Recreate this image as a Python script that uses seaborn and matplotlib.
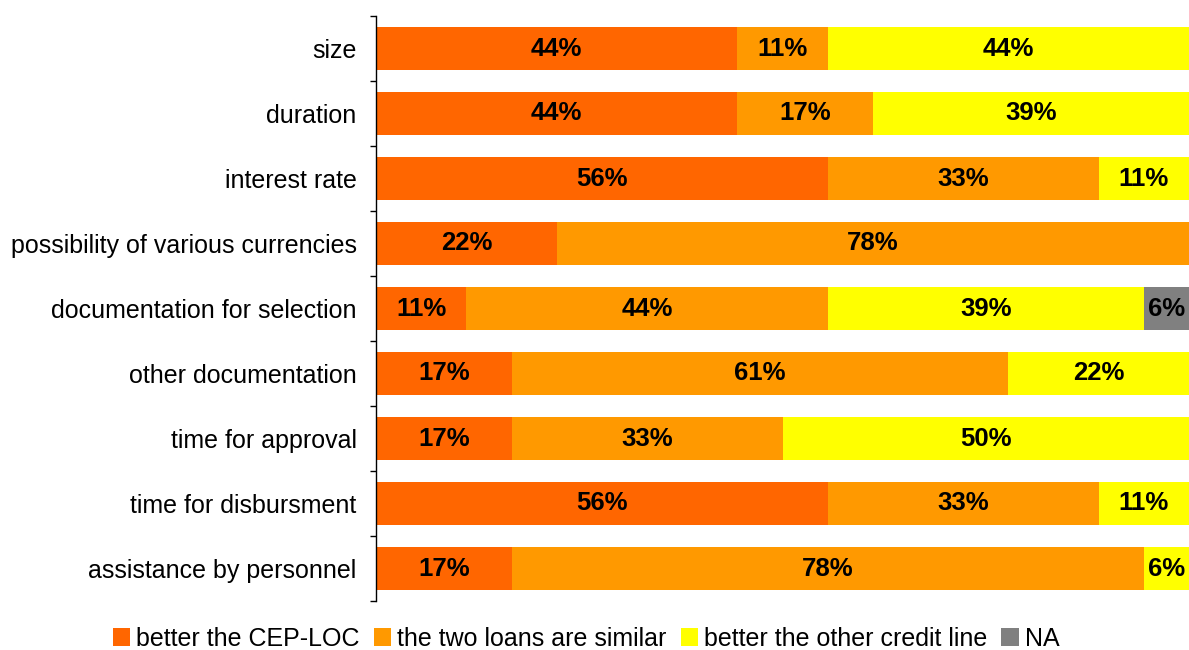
import matplotlib
matplotlib.use("Agg")
import matplotlib.pyplot as plt
from matplotlib.patches import Patch
from matplotlib.ticker import FixedLocator
import numpy as np
import pandas as pd
import seaborn as sns

# Survey answers from 18 respondents comparing the CEP-LOC with another credit line
n_respondents = 18
aspects = [
    "size",
    "duration",
    "interest rate",
    "possibility of various currencies",
    "documentation for selection",
    "other documentation",
    "time for approval",
    "time for disbursment",
    "assistance by personnel",
]
better_cep = [8, 8, 10, 4, 2, 3, 3, 10, 3]
similar = [2, 3, 6, 14, 8, 11, 6, 6, 14]
better_other = [8, 7, 2, 0, 7, 4, 9, 2, 1]
not_answered = [0, 0, 0, 0, 1, 0, 0, 0, 0]

series_names = ["better the CEP-LOC", "the two loans are similar",
                "better the other credit line", "NA"]
series_colors = ["#FF6600", "#FF9900", "#FFFF00", "#808080"]

counts = np.array([better_cep, similar, better_other, not_answered], dtype=float)
shares = counts / n_respondents * 100
cum = np.cumsum(shares, axis=0)

sns.set_theme(style="white")
plt.rcParams["font.family"] = ["Liberation Sans", "DejaVu Sans"]

fig = plt.figure(figsize=(11.89, 6.5), dpi=100)
ax = fig.add_axes([376 / 1189, 1 - 601 / 650, 1 - 376 / 1189, (601 - 16) / 650])

# Stack by overlaying cumulative totals, widest first
for i in reversed(range(len(series_names))):
    df = pd.DataFrame({"aspect": aspects, "value": cum[i]})
    sns.barplot(data=df, x="value", y="aspect", order=aspects, orient="h",
                color=series_colors[i], saturation=1, width=0.65,
                linewidth=0, ax=ax)

# Percentage labels centred in each segment
for i in range(len(series_names)):
    for j in range(len(aspects)):
        if shares[i, j] <= 0:
            continue
        left = cum[i, j] - shares[i, j]
        ax.text(left + shares[i, j] / 2, j, f"{shares[i, j]:.0f}%",
                ha="center", va="center", fontsize=18.5, fontweight="bold",
                color="black")

ax.set_xlim(0, 100)
ax.set_ylim(len(aspects) - 0.5, -0.5)
ax.set_xlabel("")
ax.set_ylabel("")
ax.set_xticks([])

for side in ["top", "right", "bottom"]:
    ax.spines[side].set_visible(False)
ax.spines["left"].set_color("black")
ax.spines["left"].set_linewidth(1.0)

ax.yaxis.set_minor_locator(FixedLocator(np.arange(-0.5, len(aspects), 1)))
ax.tick_params(axis="y", which="major", length=0, pad=14, labelsize=18,
               labelcolor="black")
ax.tick_params(axis="y", which="minor", length=4.5, width=1.0, color="black",
               direction="out", left=True)

handles = [Patch(facecolor=c, edgecolor="none") for c in series_colors]
fig.legend(handles, series_names, loc="center", bbox_to_anchor=(0.493, 0.017),
           ncol=4, frameon=False, fontsize=18, handlelength=0.7,
           handleheight=0.7, handletextpad=0.25, columnspacing=0.55,
           labelcolor="black")

fig.savefig("out.png", dpi=100)
